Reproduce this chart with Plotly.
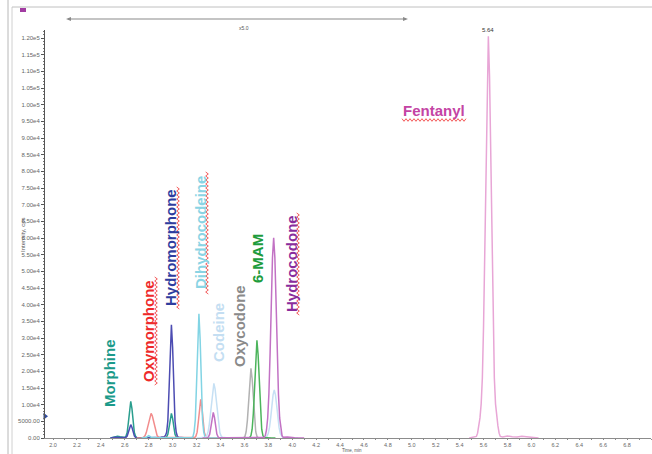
import plotly.graph_objects as go

# ---- chromatogram data (time in min, intensity in cps) ----
morphine_t = [2.48, 2.51, 2.54, 2.56, 2.58, 2.60, 2.61, 2.62, 2.63, 2.64, 2.65, 2.66, 2.67, 2.68, 2.69, 2.70,
              2.74, 2.80, 2.86, 2.92, 2.94, 2.95, 2.96, 2.97, 2.98, 2.99, 3.00, 3.01, 3.02, 3.03, 3.04, 3.08, 3.12]
morphine_i = [0, 150, 500, 350, 150, 160, 550, 1650, 4620, 8800, 11000, 8800, 4620, 1650, 550, 160,
              60, 40, 70, 60, 90, 370, 1110, 3110, 5920, 7400, 5920, 3110, 1110, 370, 90, 40, 0]

hydromorphone_t = [2.48, 2.52, 2.56, 2.60, 2.61, 2.62, 2.63, 2.64, 2.65, 2.66, 2.67, 2.68, 2.69, 2.70, 2.76, 2.84,
                   2.90, 2.93, 2.94, 2.95, 2.96, 2.97, 2.98, 2.99, 3.00, 3.01, 3.02, 3.03, 3.04, 3.05, 3.08, 3.12]
hydromorphone_i = [0, 250, 150, 60, 200, 600, 1680, 3200, 4000, 3200, 1680, 600, 200, 60, 30, 60,
                   200, 400, 700, 1700, 5100, 14300, 27200, 34000, 27200, 14300, 5100, 1700, 500, 200, 60, 0]

oxymorphone_t = [2.70, 2.74, 2.75, 2.76, 2.77, 2.78, 2.79, 2.80, 2.81, 2.82, 2.83, 2.84, 2.85, 2.86, 2.87, 2.88,
                 2.89, 2.94, 3.02, 3.10, 3.175, 3.185, 3.195, 3.205, 3.215, 3.225, 3.235, 3.245, 3.255, 3.265,
                 3.275, 3.285, 3.295, 3.34, 3.40]
oxymorphone_i = [0, 40, 90, 300, 740, 1630, 3110, 5030, 6660, 7400, 6660, 5030, 3110, 1630, 740, 300,
                 90, 120, 60, 50, 60, 116, 580, 1740, 4870, 9280, 11600, 9280, 4870, 1740,
                 580, 116, 60, 40, 0]

dihydrocodeine_t = [2.74, 2.78, 2.80, 2.82, 2.86, 3.00, 3.10, 3.16, 3.17, 3.18, 3.19, 3.20, 3.21, 3.22, 3.23,
                    3.24, 3.25, 3.26, 3.27, 3.28, 3.32, 3.38]
dihydrocodeine_i = [0, 200, 700, 250, 50, 40, 60, 100, 373, 1870, 5600, 15700, 29800, 37300, 29800,
                    15700, 5600, 1870, 373, 100, 40, 0]

codeine_t = [3.20, 3.26, 3.275, 3.285, 3.295, 3.305, 3.315, 3.325, 3.335, 3.345, 3.355, 3.365, 3.375, 3.385,
             3.395, 3.405, 3.415, 3.45, 3.55, 3.70, 3.77, 3.78, 3.79, 3.80, 3.81, 3.82, 3.83, 3.84, 3.85,
             3.86, 3.87, 3.88, 3.89, 3.90, 3.91, 3.92, 3.93, 3.98, 4.05]
codeine_i = [0, 80, 200, 660, 1640, 3610, 6890, 11150, 14760, 16400, 14760, 11150, 6890, 3610,
             1640, 660, 200, 80, 40, 60, 100, 170, 580, 1440, 3170, 6050, 9790, 12960, 14400,
             12960, 9790, 6050, 3170, 1440, 580, 170, 100, 40, 0]

oxycodone_t = [3.50, 3.58, 3.595, 3.605, 3.615, 3.625, 3.635, 3.645, 3.655, 3.665, 3.675, 3.685, 3.695,
               3.705, 3.715, 3.76, 3.82]
oxycodone_i = [0, 40, 100, 520, 1880, 5230, 11500, 17770, 20900, 17770, 11500, 5230, 1880,
               520, 100, 40, 0]

mam6_t = [3.55, 3.63, 3.645, 3.655, 3.665, 3.675, 3.685, 3.695, 3.705, 3.715, 3.725, 3.735, 3.745,
          3.755, 3.765, 3.80, 3.86]
mam6_i = [0, 50, 150, 730, 2640, 7330, 16120, 24900, 29300, 24900, 16120, 7330, 2640,
          730, 150, 50, 0]

hydrocodone_t = [3.25, 3.29, 3.30, 3.31, 3.32, 3.33, 3.34, 3.35, 3.36, 3.37, 3.38, 3.39, 3.45, 3.60, 3.70,
                 3.765, 3.775, 3.785, 3.795, 3.805, 3.815, 3.825, 3.835, 3.845, 3.855, 3.865, 3.875, 3.885,
                 3.895, 3.905, 3.915, 3.925, 3.96, 4.02, 4.10]
hydrocodone_i = [0, 77, 385, 1155, 3230, 6160, 7700, 6160, 3230, 1155, 385, 77, 60, 50, 80,
                 200, 720, 2400, 6010, 13220, 25240, 40870, 54090, 60100, 54090, 40870, 25240, 13220,
                 6010, 2400, 720, 200, 300, 100, 0]

fentanyl_t = [5.48, 5.54, 5.55, 5.56, 5.57, 5.58, 5.59, 5.60, 5.61, 5.62, 5.63, 5.64, 5.65, 5.66, 5.67,
              5.68, 5.69, 5.70, 5.71, 5.72, 5.73, 5.74, 5.76, 5.80, 5.84, 5.88, 5.92, 5.96, 6.00, 6.06]
fentanyl_i = [0, 480, 1450, 3620, 6030, 10240, 18080, 33740, 55430, 84350, 108450, 120500, 108450, 84350, 55430,
              33740, 18080, 10240, 6030, 3620, 1450, 480, 300, 600, 350, 300, 500, 300, 200, 0]

fentanyl_apex_time = 5.64
fentanyl_apex_height = 120500
threshold_level = 6500

y_tick_values = [0, 5000, 10000, 15000, 20000, 25000, 30000, 35000, 40000, 45000, 50000, 55000, 60000,
                 65000, 70000, 75000, 80000, 85000, 90000, 95000, 100000, 105000, 110000, 115000, 120000]
y_tick_labels = ["0.00", "5000.00", "1.00e4", "1.50e4", "2.00e4", "2.50e4", "3.00e4", "3.50e4", "4.00e4",
                 "4.50e4", "5.00e4", "5.50e4", "6.00e4", "6.50e4", "7.00e4", "7.50e4", "8.00e4", "8.50e4",
                 "9.00e4", "9.50e4", "1.00e5", "1.05e5", "1.10e5", "1.15e5", "1.20e5"]

# ---- figure geometry (pixels) ----
W, H = 652, 454
ML, MR, MT, MB = 45, 1, 30, 16
PW, PH = W - ML - MR, H - MT - MB
X_MIN, X_MAX = 1.933, 7.0
Y_MAX = 122400


def px_x(px):
    return (px - ML) / PW


def px_y(py):
    return (H - MB - py) / PH


traces = [
    ("Morphine", morphine_t, morphine_i, "#2a9e8e"),
    ("Hydromorphone", hydromorphone_t, hydromorphone_i, "#4c4cb2"),
    ("Oxymorphone", oxymorphone_t, oxymorphone_i, "#f28c8c"),
    ("Dihydrocodeine", dihydrocodeine_t, dihydrocodeine_i, "#82d4e4"),
    ("Codeine", codeine_t, codeine_i, "#c6e0f4"),
    ("Oxycodone", oxycodone_t, oxycodone_i, "#b2b2b2"),
    ("6-MAM", mam6_t, mam6_i, "#4cb45c"),
    ("Hydrocodone", hydrocodone_t, hydrocodone_i, "#c272c4"),
    ("Fentanyl", fentanyl_t, fentanyl_i, "#e8a6d6"),
]

fig = go.Figure()
for name, t, i, col in traces:
    fig.add_trace(go.Scatter(x=t, y=i, mode="lines", name=name,
                             line=dict(color=col, width=1.5), hoverinfo="skip"))

# threshold marker on the intensity axis
fig.add_trace(go.Scatter(x=[X_MIN], y=[threshold_level], mode="markers", cliponaxis=False,
                         marker=dict(symbol="triangle-right", size=6, color="#2f4aa0"),
                         hoverinfo="skip"))

# compound labels: (text, colour, centre px x, centre px y, angle)
labels = [
    ("Morphine", "#1b9a8a", 109, 373, -90),
    ("Oxymorphone", "#ee2a2a", 148, 331, -90),
    ("Hydromorphone", "#2e3c9e", 170, 248, -90),
    ("Dihydrocodeine", "#8ad4e4", 200, 233, -90),
    ("Codeine", "#c4def2", 218, 333, -90),
    ("Oxycodone", "#8a8a8a", 239, 326, -90),
    ("6-MAM", "#1e9c3c", 257, 259, -90),
    ("Hydrocodone", "#8a2c9c", 291, 264, -90),
    ("Fentanyl", "#c444a4", 434, 111, 0),
]
annotations = []
for text, col, cx, cy, ang in labels:
    annotations.append(dict(text="<b>%s</b>" % text, x=px_x(cx), y=px_y(cy), xref="paper", yref="paper",
                            showarrow=False, textangle=ang, xanchor="center", yanchor="middle",
                            font=dict(family="Liberation Sans, Arial", size=15, color=col)))

# apex retention time
annotations.append(dict(text="%.2f" % fentanyl_apex_time, x=fentanyl_apex_time, y=fentanyl_apex_height,
                        xref="x", yref="y", showarrow=False, yanchor="bottom", yshift=1,
                        font=dict(family="Liberation Sans, Arial", size=6, color="#333333")))

# axis titles and zoom indicator text
annotations += [
    dict(text="Intensity, cps", x=px_x(18), y=px_y(235), xref="paper", yref="paper", showarrow=False,
         textangle=-90, font=dict(family="Liberation Sans, Arial", size=6, color="#555555")),
    dict(text="Time, min", x=px_x(352), y=px_y(454), xref="paper", yref="paper", showarrow=False,
         yanchor="bottom", borderpad=0,
         font=dict(family="Liberation Sans, Arial", size=4.5, color="#555555")),
    dict(text="x5.0", x=px_x(237), y=px_y(23), xref="paper", yref="paper", showarrow=False,
         font=dict(family="Liberation Sans, Arial", size=5, color="#555555")),
]


def zigzag_v(x, y0, y1, amp=1.3, step=2.0):
    pts = []
    y = y0
    k = 0
    while y <= y1:
        xx = x + (amp if k % 2 else -amp)
        pts.append((px_x(xx), px_y(y)))
        y += step
        k += 1
    return "M " + " L ".join("%.5f,%.5f" % p for p in pts)


def zigzag_h(y, x0, x1, amp=1.3, step=2.0):
    pts = []
    x = x0
    k = 0
    while x <= x1:
        yy = y + (amp if k % 2 else -amp)
        pts.append((px_x(x), px_y(yy)))
        x += step
        k += 1
    return "M " + " L ".join("%.5f,%.5f" % p for p in pts)


shapes = []
# spell-check squiggles
for sx, sy0, sy1 in [(156, 277, 385), (178, 187, 310), (207, 172, 294), (298, 213, 315)]:
    shapes.append(dict(type="path", path=zigzag_v(sx, sy0, sy1), xref="paper", yref="paper",
                       line=dict(color="#f03030", width=0.8)))
shapes.append(dict(type="path", path=zigzag_h(120, 402, 467), xref="paper", yref="paper",
                   line=dict(color="#f03030", width=0.8)))

# window chrome
shapes += [
    dict(type="line", x0=px_x(8), x1=px_x(8), y0=px_y(0), y1=px_y(454), xref="paper", yref="paper",
         line=dict(color="#b8b8b8", width=1)),
    dict(type="line", x0=px_x(12), x1=px_x(12), y0=px_y(7), y1=px_y(454), xref="paper", yref="paper",
         line=dict(color="#d0d0d0", width=1)),
    dict(type="line", x0=px_x(12), x1=px_x(652), y0=px_y(7), y1=px_y(7), xref="paper", yref="paper",
         line=dict(color="#c0c0c0", width=1)),
    dict(type="rect", x0=px_x(20), x1=px_x(26), y0=px_y(8), y1=px_y(12), xref="paper", yref="paper",
         fillcolor="#a23ca2", line=dict(width=0)),
    # zoom range indicator
    dict(type="line", x0=px_x(68), x1=px_x(406), y0=px_y(19), y1=px_y(19), xref="paper", yref="paper",
         line=dict(color="#8a8a8a", width=1.2)),
    dict(type="path", xref="paper", yref="paper", fillcolor="#8a8a8a", line=dict(width=0),
         path="M %.5f,%.5f L %.5f,%.5f L %.5f,%.5f Z" % (px_x(66), px_y(19), px_x(71), px_y(17), px_x(71), px_y(21))),
    dict(type="path", xref="paper", yref="paper", fillcolor="#8a8a8a", line=dict(width=0),
         path="M %.5f,%.5f L %.5f,%.5f L %.5f,%.5f Z" % (px_x(408), px_y(19), px_x(403), px_y(17), px_x(403), px_y(21))),
]

fig.update_layout(
    width=W, height=H,
    margin=dict(l=ML, r=MR, t=MT, b=MB, pad=0),
    paper_bgcolor="white", plot_bgcolor="white",
    showlegend=False,
    annotations=annotations,
    shapes=shapes,
    font=dict(family="Liberation Sans, Arial", color="#555555"),
)
fig.update_xaxes(range=[X_MIN, X_MAX], showgrid=False, zeroline=False,
                 showline=True, linecolor="#8c8c8c", linewidth=1,
                 tick0=2.0, dtick=0.2, tickformat=".1f", ticks="outside", ticklen=1, tickcolor="#8c8c8c",
                 minor=dict(dtick=0.1, ticks="outside", ticklen=1, tickcolor="#8c8c8c"),
                 tickfont=dict(size=5.5, color="#666666"))
fig.update_yaxes(range=[0, Y_MAX], showgrid=False, zeroline=False,
                 showline=True, linecolor="#555555", linewidth=1,
                 tickvals=y_tick_values, ticktext=y_tick_labels,
                 ticks="outside", ticklen=3, tickcolor="#555555",
                 minor=dict(dtick=1000, ticks="outside", ticklen=1, tickcolor="#777777"),
                 tickfont=dict(size=6, color="#666666"))

fig.write_html("out.html")
